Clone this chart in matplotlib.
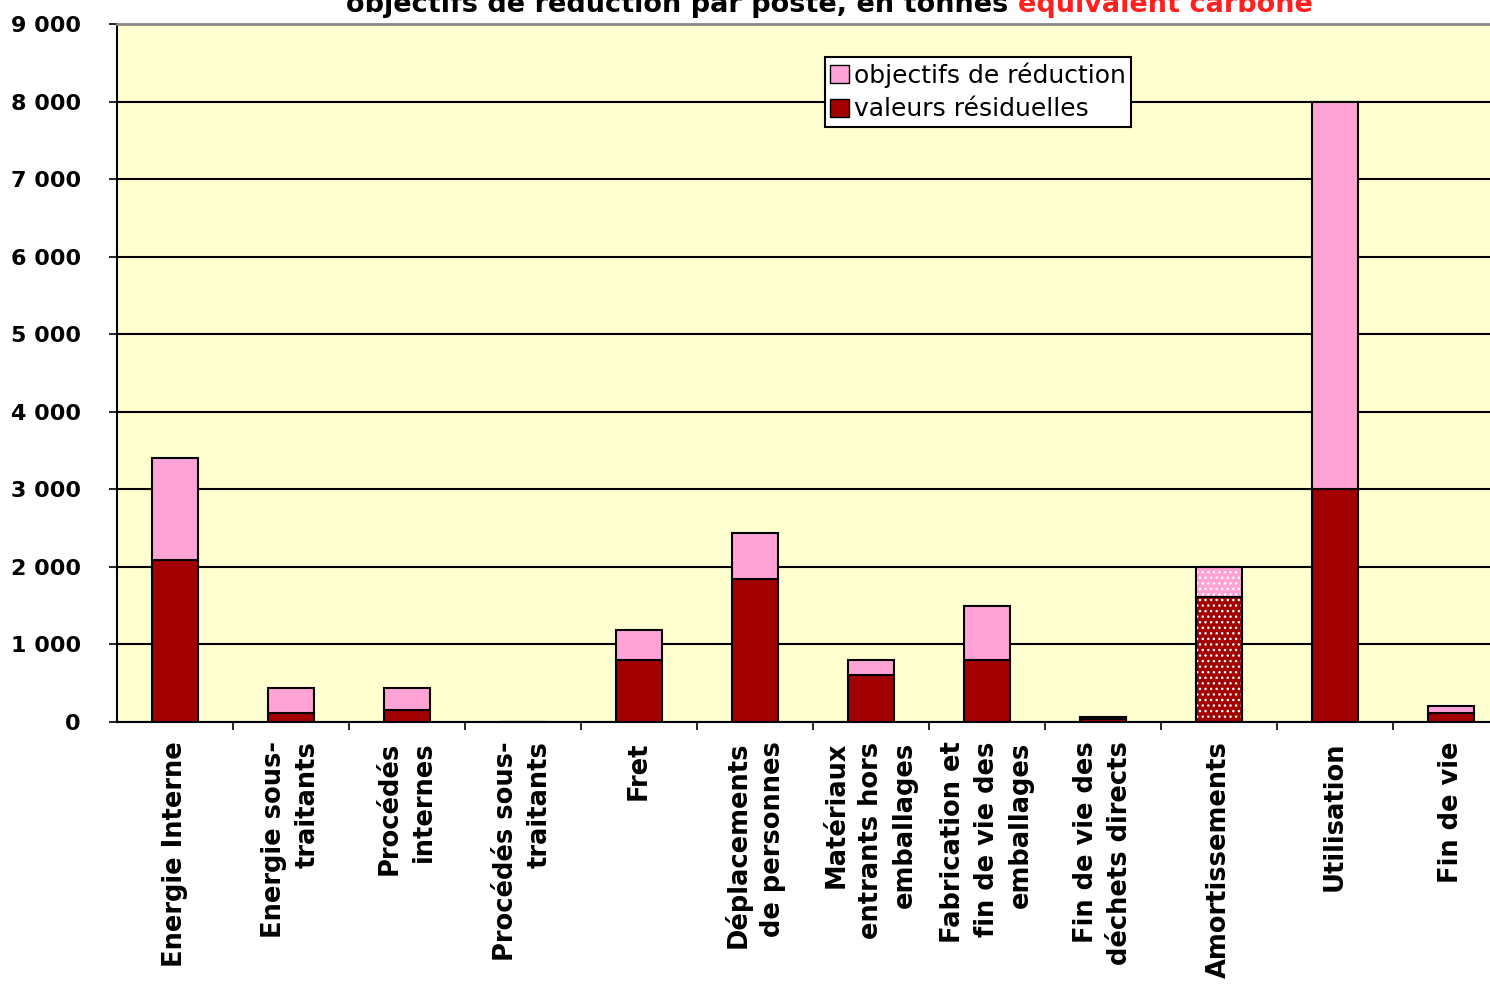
import matplotlib
matplotlib.use("Agg")
import matplotlib.pyplot as plt
import numpy as np

categories = [
    "Energie Interne",
    "Energie sous-\ntraitants",
    "Procédés\ninternes",
    "Procédés sous-\ntraitants",
    "Fret",
    "Déplacements\nde personnes",
    "Matériaux\nentrants hors\nemballages",
    "Fabrication et\nfin de vie des\nemballages",
    "Fin de vie des\ndéchets directs",
    "Amortissements",
    "Utilisation",
    "Fin de vie",
]
residual = [2090, 115, 150, 0, 800, 1850, 600, 800, 40, 1610, 3000, 120]
total = [3400, 440, 440, 0, 1190, 2440, 800, 1500, 60, 2000, 8000, 200]
reduction = [t - r for t, r in zip(total, residual)]
hatched = [False] * 9 + [True] + [False] * 2

yticks = [0, 1000, 2000, 3000, 4000, 5000, 6000, 7000, 8000, 9000]
ytick_labels = ["0", "1 000", "2 000", "3 000", "4 000", "5 000",
                "6 000", "7 000", "8 000", "9 000"]

PINK = "#FFA3D6"
DARK = "#A30000"
BG = "#FFFFD0"

W, H = 1490, 985
fig = plt.figure(figsize=(W / 100, H / 100), dpi=100)
ax = fig.add_axes([117 / W, 1 - 722 / H, 1392 / W, 698 / H])
ax.set_facecolor(BG)

x = np.arange(len(categories))
bw = 0.405
for i in x:
    h = "..." if hatched[i] else None
    ax.bar(i, residual[i], bw, color=DARK, edgecolor="white" if h else "black",
           linewidth=0 if h else 1.5, hatch=h, zorder=3)
    ax.bar(i, reduction[i], bw, bottom=residual[i], color=PINK,
           edgecolor="white" if h else "black", linewidth=0 if h else 1.5,
           hatch=h, zorder=3)
    if h:
        ax.bar(i, residual[i], bw, fill=False, edgecolor="black", linewidth=1.5, zorder=4)
        ax.bar(i, reduction[i], bw, bottom=residual[i], fill=False,
               edgecolor="black", linewidth=1.5, zorder=4)

# legend proxies
ax.bar([0], [0], color=PINK, edgecolor="black", label="objectifs de réduction")
ax.bar([0], [0], color=DARK, edgecolor="black", label="valeurs résiduelles")

ax.set_xlim(-0.5, len(categories) - 0.5)
ax.set_ylim(0, 9000)
ax.set_yticks(yticks)
ax.set_yticklabels(ytick_labels, fontsize=16, fontweight="bold")
ax.yaxis.grid(True, color="black", linewidth=1.5, zorder=1)
ax.set_axisbelow(True)
ax.tick_params(axis="y", direction="out", length=6, width=1.2, pad=20)

ax.set_xticks(x)
ax.set_xticklabels(categories, rotation=90, fontsize=18.5, fontweight="bold",
                   linespacing=1.4, va="top", ha="center", multialignment="right")
ax.tick_params(axis="x", which="major", length=0, pad=14)
ax.set_xticks(np.arange(0.5, len(categories) - 0.5), minor=True)
ax.tick_params(axis="x", which="minor", direction="out", length=6, width=1.2)

for s in ["left", "bottom"]:
    ax.spines[s].set_linewidth(1.5)
ax.spines["top"].set_color("#888888")
ax.spines["top"].set_linewidth(2)
ax.spines["right"].set_visible(False)

leg = ax.legend(loc="upper left", bbox_to_anchor=((825 - 117) / 1392, (722 - 57) / 698),
                fontsize=18, frameon=True, fancybox=False, edgecolor="black",
                facecolor="white", framealpha=1, handlelength=0.75, handleheight=0.75,
                handletextpad=0.2, borderpad=0.2, labelspacing=0.4,
                borderaxespad=0)
leg.get_frame().set_linewidth(1.5)
leg.set_zorder(5)

ty = 1 - 12 / H
fig.text(1008 / W, ty, "objectifs de réduction par poste, en tonnes",
         ha="right", va="baseline", fontsize=19.5, fontweight="bold")
fig.text(1018 / W, ty, "équivalent carbone", ha="left", va="baseline",
         fontsize=19.5, fontweight="bold", color="#FF2020")

fig.savefig("out.png", dpi=100, facecolor="white")
